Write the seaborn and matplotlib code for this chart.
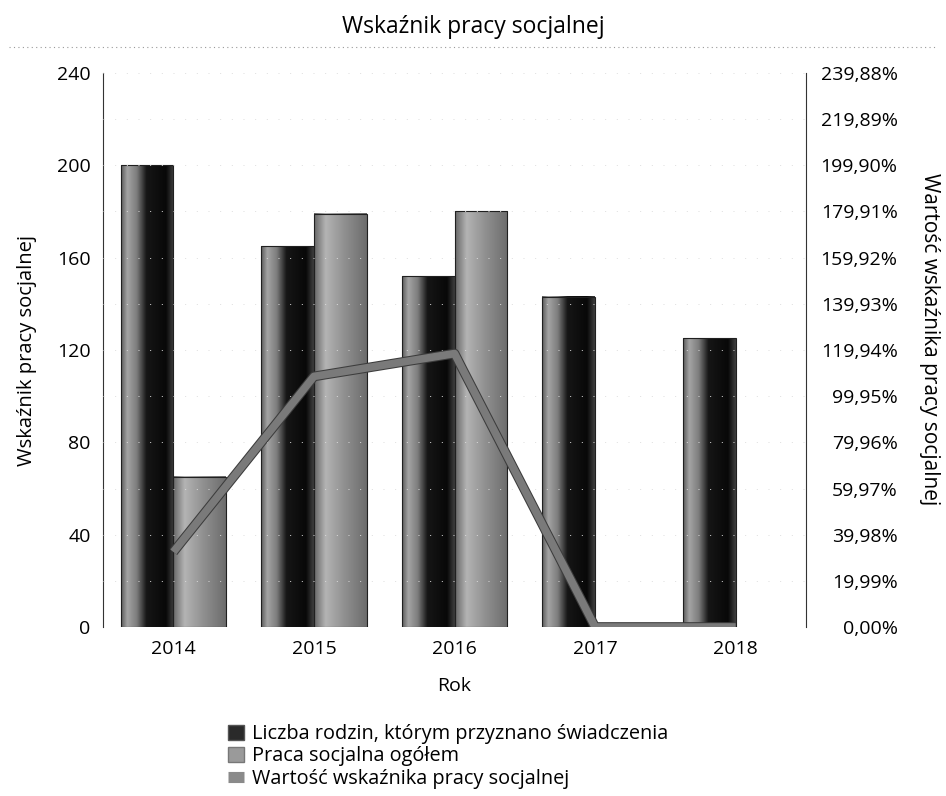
import numpy as np
import pandas as pd
import matplotlib
matplotlib.use("Agg")
import matplotlib.pyplot as plt
import seaborn as sns
from matplotlib.colors import LinearSegmentedColormap
from matplotlib.patches import Patch
from matplotlib.lines import Line2D
import matplotlib.patheffects as pe

# Data
lata = ["2014", "2015", "2016", "2017", "2018"]
rodziny = [200, 165, 152, 143, 125]          # Liczba rodzin, którym przyznano świadczenia
praca = [65, 179, 180, 0, 0]                 # Praca socjalna ogółem
wskaznik = [32.5, 108.5, 118.4, 0, 0]        # Wartość wskaźnika pracy socjalnej (%)
lewe_ticki = [0, 40, 80, 120, 160, 200, 240]
prawe_ticki = [0, 19.99, 39.98, 59.97, 79.96, 99.95, 119.94,
               139.93, 159.92, 179.91, 199.90, 219.89, 239.88]

seria1 = "Liczba rodzin, którym przyznano świadczenia"
seria2 = "Praca socjalna ogółem"
seria3 = "Wartość wskaźnika pracy socjalnej"

sns.set_style("white")
plt.rcParams["font.family"] = ["Open Sans", "DejaVu Sans"]
plt.rcParams["font.size"] = 14
for k in ["text.color", "axes.labelcolor", "xtick.color", "ytick.color"]:
    plt.rcParams[k] = "#000000"

df = pd.DataFrame({
    "Rok": lata * 2,
    "seria": [seria1] * 5 + [seria2] * 5,
    "wartosc": rodziny + praca,
})

fig = plt.figure(figsize=(9.46, 7.96), dpi=100)
ax = fig.add_axes([0.109, 0.2123, 0.743, 0.696])

sns.barplot(data=df, x="Rok", y="wartosc", hue="seria",
            palette=["#1a1a1a", "#8f8f8f"], width=0.75, gap=0,
            edgecolor="#202020", linewidth=0.8, legend=False, ax=ax)

# cylinder-like shading of the scanned bars
cm_ciemny = LinearSegmentedColormap.from_list("c", [
    (0, "#5a5a5a"), (0.12, "#a4a4a4"), (0.3, "#7c7c7c"),
    (0.48, "#161616"), (0.85, "#080808"), (1, "#404040")])
cm_jasny = LinearSegmentedColormap.from_list("j", [
    (0, "#666666"), (0.22, "#b4b4b4"), (0.55, "#929292"), (1, "#6c6c6c")])
grad = np.linspace(0, 1, 256).reshape(1, -1)
for i, p in enumerate(ax.patches):
    h = p.get_height()
    if h <= 0:
        p.set_visible(False)
        continue
    cmap = cm_ciemny if i < 5 else cm_jasny
    x0, w = p.get_x(), p.get_width()
    ax.imshow(grad, extent=[x0, x0 + w, 0, h], aspect="auto", cmap=cmap,
              zorder=p.get_zorder() - 0.01, interpolation="bilinear")
    p.set_facecolor("none")

ax.set_xlim(-0.5, 4.5)
ax.set_ylim(0, 240)
ax.set_yticks(lewe_ticki)
ax.set_xlabel("Rok", fontsize=14, labelpad=14)
ax.set_ylabel("Wskaźnik pracy socjalnej", fontsize=14.5, labelpad=14)
ax.tick_params(axis="both", length=0, labelsize=14)
ax.tick_params(axis="y", pad=9)
ax.tick_params(axis="x", pad=9)
for s in ["top", "right", "bottom"]:
    ax.spines[s].set_visible(False)
ax.spines["left"].set_color("#333333")
ax.spines["left"].set_linewidth(0.8)

ax2 = ax.twinx()
sns.lineplot(x=np.arange(len(lata)), y=wskaznik, ax=ax2, color="#7a7a7a",
             linewidth=5.5, solid_capstyle="butt",
             path_effects=[pe.Stroke(linewidth=7, foreground="#3c3c3c"), pe.Normal()])
ax2.set_ylim(0, 239.88)
ax2.set_yticks(prawe_ticki)
ax2.set_yticklabels([f"{v:.2f}".replace(".", ",") + "%" for v in prawe_ticki])
ax2.tick_params(axis="y", length=0, labelsize=14, pad=66)
for lab in ax2.get_yticklabels():
    lab.set_horizontalalignment("right")
ax2.set_ylabel("Wartość wskaźnika pracy socjalnej", fontsize=15,
               rotation=270, labelpad=22)
ax2.yaxis.set_label_coords(1.19, 0.52)
ax2.grid(axis="y", color="#dddddd", linestyle=(0, (1, 11)), linewidth=0.7)
for s in ["top", "left", "bottom"]:
    ax2.spines[s].set_visible(False)
ax2.spines["right"].set_color("#333333")
ax2.spines["right"].set_linewidth(0.8)
ax2.set_xlim(-0.5, 4.5)

fig.text(0.5, 1 - 27 / 796, "Wskaźnik pracy socjalnej", ha="center",
         va="center", fontsize=16.5)
fig.add_artist(Line2D([0.01, 0.99], [1 - 47 / 796] * 2, color="#999999",
                      linestyle=(0, (1, 3)), linewidth=0.8))

uchwyty = [Patch(facecolor="#2a2a2a", edgecolor="#555555"),
           Patch(facecolor="#9a9a9a", edgecolor="#777777"),
           Line2D([], [], color="#8a8a8a", linewidth=8, solid_capstyle="butt")]
fig.legend(uchwyty, [seria1, seria2, seria3], loc="upper left",
           bbox_to_anchor=(228 / 946, 1 - 724 / 796), frameon=False,
           fontsize=14.3, handlelength=0.8, handleheight=0.8,
           handletextpad=0.4, labelspacing=0.12, borderpad=0,
           borderaxespad=0)

fig.savefig("out.png", dpi=100)
